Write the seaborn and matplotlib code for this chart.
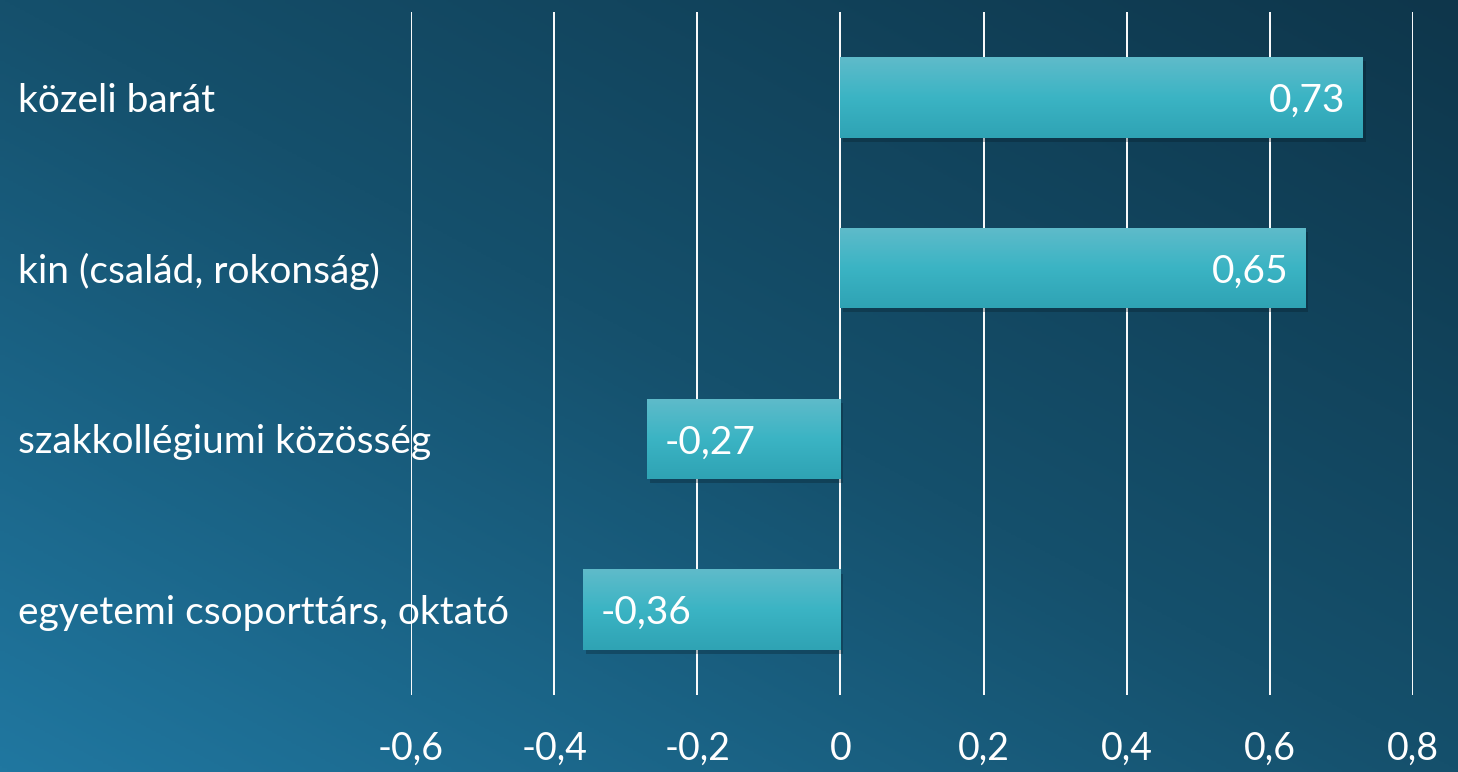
import numpy as np
import pandas as pd
import matplotlib.pyplot as plt
import seaborn as sns
from matplotlib import patheffects as pe
from matplotlib import transforms
from matplotlib.colors import LinearSegmentedColormap

categories = ["közeli barát", "kin (család, rokonság)", "szakkollégiumi közösség", "egyetemi csoporttárs, oktató"]
values = [0.73, 0.65, -0.27, -0.36]
value_labels = ["0,73", "0,65", "-0,27", "-0,36"]
ticks = [-0.6, -0.4, -0.2, 0, 0.2, 0.4, 0.6, 0.8]
tick_labels = ["-0,6", "-0,4", "-0,2", "0", "0,2", "0,4", "0,6", "0,8"]

df = pd.DataFrame({"kategoria": categories, "ertek": values})

sns.set_theme(style="white")
plt.rcParams["font.family"] = ["Lato", "DejaVu Sans"]

fig = plt.figure(figsize=(14.58, 7.72), dpi=100)

# background gradient: dark top-right, lighter bottom-left
bg = fig.add_axes([0, 0, 1, 1], zorder=0)
yy, xx = np.mgrid[0:1:300j, 0:1:300j]
s = 0.5 * (1 - xx) + 0.5 * yy
bg_cmap = LinearSegmentedColormap.from_list("bg", ["#0e364b", "#15506c", "#2077a0"])
bg.imshow(s, cmap=bg_cmap, aspect="auto", extent=[0, 1, 0, 1], origin="upper", vmin=0, vmax=1)
bg.set_axis_off()

ax = fig.add_axes([411 / 1458, 1 - 695 / 772, 1002 / 1458, 683 / 772], zorder=1)
ax.patch.set_alpha(0)

sns.barplot(data=df, x="ertek", y="kategoria", orient="h", width=0.47,
            color="#3ab3c3", linewidth=0, ax=ax, zorder=3)

bar_cmap = LinearSegmentedColormap.from_list("bar", ["#5fbbca", "#3bb4c4", "#2fa3b4"])
grad = np.linspace(0, 1, 100).reshape(-1, 1)
for p in ax.patches:
    p.set_path_effects([pe.SimplePatchShadow(offset=(2, -3), shadow_rgbFace="#061a25", alpha=0.3), pe.Normal()])
    x0, y0 = p.get_x(), p.get_y()
    w, h = p.get_width(), p.get_height()
    im = ax.imshow(grad, cmap=bar_cmap, aspect="auto", zorder=4,
                   extent=[x0, x0 + w, y0 + h, y0], origin="upper")
    im.set_clip_path(p)

ax.set_xlim(-0.6, 0.8)
ax.set_ylim(3.5, -0.5)

for t in ticks:
    ax.axvline(t, color="white", lw=1.4, zorder=2)

ax.set_xticks(ticks, tick_labels)
ax.tick_params(axis="x", length=0, pad=26, labelsize=27, labelcolor="white")
ax.set_yticks([])
ax.set_xlabel("")
ax.set_ylabel("")
for sp in ax.spines.values():
    sp.set_visible(False)

# category labels at the left edge of the figure
trans = transforms.blended_transform_factory(fig.transFigure, ax.transData)
for i, c in enumerate(categories):
    ax.text(18 / 1458, i + 0.02, c, transform=trans, ha="left", va="center",
            fontsize=28, color="white", zorder=5)

for i, (v, lab) in enumerate(zip(values, value_labels)):
    if v >= 0:
        ax.text(v - 0.024, i + 0.02, lab, ha="right", va="center", fontsize=28, color="white", zorder=6)
    else:
        ax.text(v + 0.025, i + 0.02, lab, ha="left", va="center", fontsize=28, color="white", zorder=6)

fig.savefig("out.png", dpi=100)
plt.close()
